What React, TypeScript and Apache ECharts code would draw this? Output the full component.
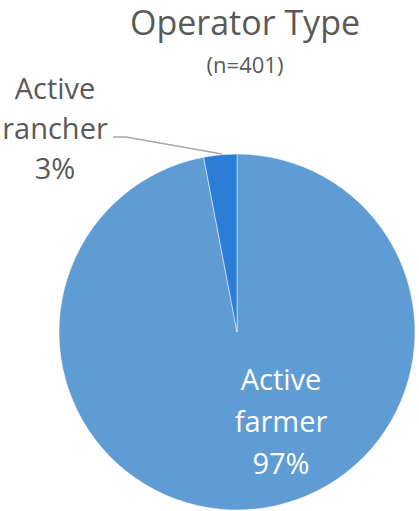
import React, { useEffect, useRef } from "react";
import * as echarts from "echarts";

const categories = ["Active farmer", "Active rancher"];
const values = [97, 3];
const colors = ["#5F9CD3", "#2B7DD6"];
const titleText = "Operator Type";
const subtitleText = "(n=401)";

export default function App() {
  const ref = useRef<HTMLDivElement>(null);
  useEffect(() => {
    document.body.style.margin = "0";
    const chart = echarts.init(ref.current!, null, { renderer: "svg" });
    const font = "'Open Sans', 'Noto Sans', sans-serif";
    chart.setOption({
      animation: false,
      backgroundColor: "#ffffff",
      title: [
        {
          text: titleText,
          left: 240,
          textAlign: "center",
          top: 0,
          textStyle: { fontFamily: font, fontSize: 34, fontWeight: "normal", color: "#595959" },
        },
        {
          text: subtitleText,
          left: 240,
          textAlign: "center",
          top: 48,
          textStyle: { fontFamily: font, fontSize: 22, fontWeight: "normal", color: "#595959" },
        },
      ],
      series: [
        {
          type: "pie",
          center: [237, 332],
          radius: 178,
          startAngle: 90,
          clockwise: true,
          itemStyle: { borderColor: "#ffffff", borderWidth: 0.5 },
          data: categories.map((c, i) => ({
            name: c,
            value: values[i],
            itemStyle: { color: colors[i] },
            label:
              i === 0
                ? { position: "inside", color: "#ffffff", fontSize: 29, lineHeight: 42 }
                : { position: "outside", color: "#595959", fontSize: 29, lineHeight: 40 },
            labelLine: i === 0 ? { show: false } : { show: true, lineStyle: { color: "#A6A6A6", width: 1.5 } },
          })),
          label: {
            show: true,
            fontFamily: font,
            align: "center",
            formatter: (p: any) => p.name.replace(" ", "\n") + "\n" + p.value + "%",
          },
          labelLayout: (p: any) => {
            if (p.dataIndex === 0) {
              return { x: 281, y: 420, align: "center", verticalAlign: "middle" };
            }
            return {
              x: 55,
              y: 127,
              align: "center",
              verticalAlign: "middle",
              labelLinePoints: [
                [222, 154],
                [126, 137],
                [113, 137],
              ],
            };
          },
        },
      ],
    });
    return () => chart.dispose();
  }, []);
  return <div ref={ref} style={{ width: 419, height: 511 }} />;
}
